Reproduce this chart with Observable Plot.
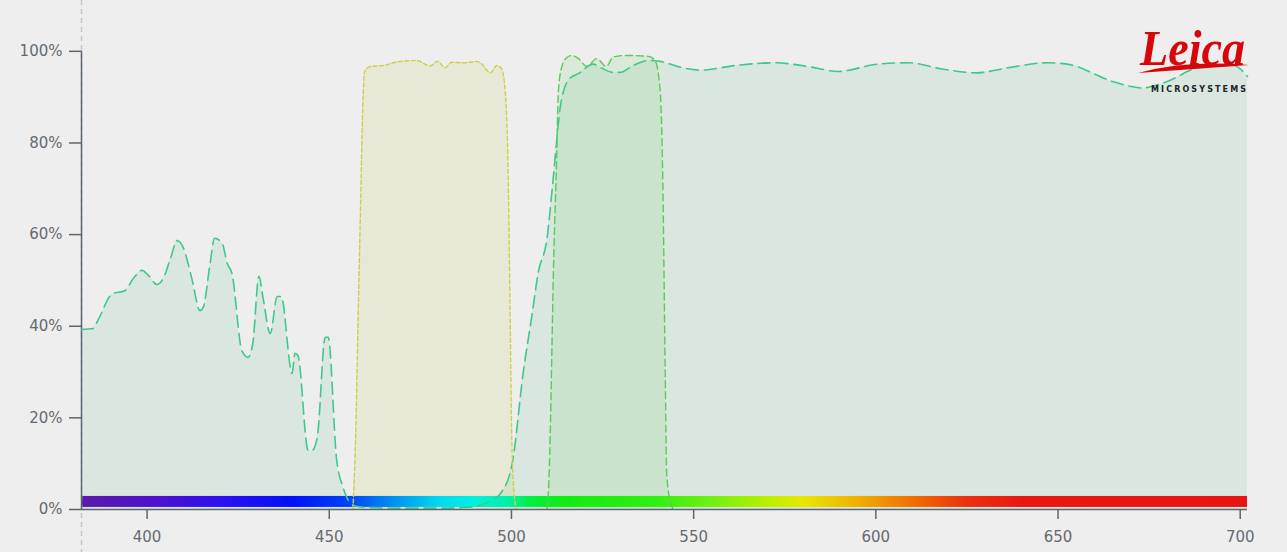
<!DOCTYPE html>
<html><head><meta charset="utf-8">
<script src="https://cdn.jsdelivr.net/npm/d3@7"></script>
<script src="https://cdn.jsdelivr.net/npm/@observablehq/plot@0.6"></script>
<style>
html,body{margin:0;padding:0;background:#eeeeee;}
#wrap{position:relative;width:1287px;height:552px;overflow:hidden;}
#logo{position:absolute;left:1136px;top:20px;}
</style></head><body>
<div id="wrap"><div id="chart"></div>
<svg id="logo" width="120" height="80" viewBox="0 0 120 80">
  <text x="4" y="45" font-family="Liberation Serif" font-style="italic" font-weight="bold" font-size="50" fill="#d6060b" textLength="105" lengthAdjust="spacingAndGlyphs">Leica</text>
  <path d="M2,53 Q50,40 113,45 Q58,49 2,53 Z" fill="#d6060b"/>
  <text x="15" y="72" font-family="DejaVu Sans" font-weight="bold" font-size="8" fill="#222" textLength="95" lengthAdjust="spacing">MICROSYSTEMS</text>
</svg>
</div>
<script>
// Teal (long dash) curve
const tealWl  = [382,385.2,386.5,390.4,394,396.2,398.6,400.5,402.7,404.4,406.5,408.2,409.9,412.4,414.5,415.4,417.3,418.5,420.6,422,423.3,426,427.7,429,430.7,431.8,433.8,435.7,436.8,439.8,440.6,441.4,444.2,445.3,446.7,448.9,449.7,452,453.8,455.7,458,462,470,480,488,491.4,494,497,500.2,503.2,505.7,507.3,509.8,511.4,513.4,515.6,518.9,522.4,524.3,527.9,529.8,533.4,537.5,540.8,546,551.6,562.4,572.2,582,589.6,600.4,609.1,617.8,627.6,636.2,647,652.5,665.5,673.1,679.6,689.4,698.1,702];
const tealVal = [39.3,39.5,41.3,47,47.8,50.4,52.2,51,49.1,50.4,55,58.7,57.2,50,43.4,44.1,53.7,59.2,58.1,53.7,51.5,34.7,33.2,36.2,50.9,46.3,38.4,46.5,46.5,29.7,34.1,33.6,12.9,12.9,15.7,37.6,37.6,11,4.8,1.5,0.6,0.4,0.3,0.3,0.5,0.9,1.8,3.5,10,29.7,42.8,51.5,59.4,71.8,87.8,93.7,95.4,97.2,96.5,95.4,95.4,96.9,98,97.8,96.6,95.9,97,97.5,96.6,95.6,97.2,97.5,96.2,95.3,96.4,97.5,97.2,93.3,92,93.3,96.6,96.9,94.5];
// Yellow (short dash) band
const yellowWl  = [456.5,457.2,458,458.5,459.2,459.7,461.2,464.9,468.5,474,477.7,479.7,481.8,483.6,486.8,490.5,491.9,494.2,496,497.3,498.3,499.1,499.6,500.1,500.8,501.5];
const yellowVal = [0,15,45,63,88,95.5,96.7,96.9,97.7,98,96.8,97.8,96.4,97.6,97.5,97.8,97.2,95.3,96.9,96.2,91,73,45,15,3,0];
// Green (medium dash) band
const greenWl  = [509.7,510.2,510.6,511.1,511.5,512.3,512.9,513.8,515,516.6,518.4,520.7,523.4,526,528,531.7,537.6,539.4,540.8,541.5,542.2,542.6,543.5,544.5];
const greenVal = [0,5,15,35,51.5,73.4,91.5,96.6,98.5,99.1,98.4,96.7,98.4,96.7,98.8,99.1,98.9,98,91.5,73.4,29.7,7.9,2,0];
// Axis ticks
const xTicks = [400,450,500,550,600,650,700];
const yTicks = [0,20,40,60,80,100];
// Spectrum bar colour stops
const specWl    = [382,400,420,440,455,465,480,490,500,505,515,540,555,570,580,595,610,625,640,702];
const specColor = ["#5c1aa6","#5012c8","#2f0ff0","#0010f8","#0040f8","#0080f0","#00d8f0","#00f0e0","#00f0a0","#00f040","#10ec10","#30f010","#70f010","#b8f000","#e8e800","#f0b000","#f07000","#ec3010","#e81810","#e81410"];

const toRows = (w, v) => w.map((x, i) => ({x, y: v[i]}));
const teal = toRows(tealWl, tealVal);
const yellow = toRows(yellowWl, yellowVal);
const green = toRows(greenWl, greenVal);

const plot = Plot.plot({
  width: 1287, height: 552,
  marginLeft: 81, marginRight: 40, marginTop: 5, marginBottom: 43,
  style: {background: "transparent", fontFamily: "DejaVu Sans", fontSize: "15px", color: "#666a70"},
  x: {domain: [382, 702]},
  y: {domain: [0, 110]},
  marks: [
    Plot.areaY(teal, {x: "x", y: "y", fill: "#26b26c", fillOpacity: 0.1, curve: "monotone-x"}),
    Plot.areaY(yellow, {x: "x", y: "y", fill: "#b4c020", fillOpacity: 0.12, curve: "monotone-x"}),
    Plot.areaY(green, {x: "x", y: "y", fill: "#6fd060", fillOpacity: 0.15, curve: "monotone-x"}),
    Plot.rect([{x1: 382, x2: 702}], {x1: "x1", x2: "x2", y1: () => 0.45, y2: () => 2.85, fill: "url(#spec)"}),
    Plot.ruleX([382], {stroke: "#c8c8c8", strokeWidth: 1.5, strokeDasharray: "5,4", insetTop: -5, insetBottom: -43}),
    Plot.ruleX([382], {y1: () => 0, y2: () => 100, stroke: "#5b6670", strokeWidth: 1.5}),
    Plot.lineY(teal, {x: "x", y: "y", stroke: "#3ec98a", strokeWidth: 1.6, strokeDasharray: "12,6", curve: "monotone-x"}),
    Plot.lineY(yellow, {x: "x", y: "y", stroke: "#cfd04a", strokeWidth: 1.4, strokeDasharray: "4,2.5", curve: "monotone-x"}),
    Plot.lineY(green, {x: "x", y: "y", stroke: "#5acb55", strokeWidth: 1.4, strokeDasharray: "7,4", curve: "monotone-x"}),
    Plot.ruleY([0], {stroke: "#5b6670", strokeWidth: 1.5}),
    Plot.axisY(yTicks, {tickSize: 12, tickPadding: 7, stroke: "#5b6670", strokeWidth: 1.5, tickFormat: d => d + "%", label: null, fill: "#666a70"}),
    Plot.axisX(xTicks, {tickSize: 10, tickPadding: 12, stroke: "#5b6670", strokeWidth: 1.5, label: null, fill: "#666a70"})
  ]
});

const svg = d3.select(plot);
const grad = svg.insert("defs", ":first-child").append("linearGradient")
  .attr("id", "spec").attr("x1", "0").attr("x2", "1").attr("y1", "0").attr("y2", "0");
specWl.forEach((w, i) => {
  grad.append("stop").attr("offset", (w - 382) / (702 - 382)).attr("stop-color", specColor[i]);
});
document.getElementById("chart").appendChild(plot);
</script>
</body></html>
